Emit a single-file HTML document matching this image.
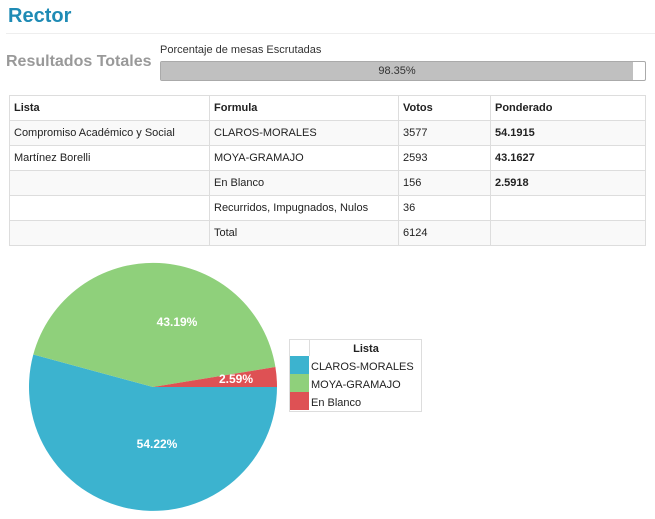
<!DOCTYPE html>
<html><head><meta charset="utf-8"><style>
body{margin:0;width:655px;height:519px;background:#fff;font-family:"Liberation Sans",sans-serif;position:relative;overflow:hidden}
.a{position:absolute}
table{border-collapse:collapse;font-size:11px;color:#222}
td{border:1px solid #ddd;height:25px;padding:0 0 0 4px;box-sizing:border-box}
tr:nth-child(even) td{background:#f9f9f9}
</style></head><body>
<div class="a" style="left:8px;top:5px;font-size:20px;font-weight:bold;color:#1f8bb5">Rector</div>
<div class="a" style="left:6px;top:33px;width:649px;height:1px;background:#eee"></div>
<div class="a" style="left:6px;top:53px;font-size:16px;font-weight:bold;color:#999">Resultados Totales</div>
<div class="a" style="left:160px;top:44px;font-size:11px;color:#333">Porcentaje de mesas Escrutadas</div>
<div class="a" style="left:160px;top:61px;width:484px;height:18px;border:1px solid #aaa;background:#fff;border-radius:2px">
<div style="width:472px;height:18px;background:#c0c0c0;text-align:center;font-size:11px;line-height:18px;color:#333">98.35%</div></div>
<table class="a" style="left:9px;top:95px;width:637px">
<tr><td style="width:200px;font-weight:bold">Lista</td><td style="width:189px;font-weight:bold">Formula</td><td style="width:92px;font-weight:bold">Votos</td><td style="font-weight:bold">Ponderado</td></tr>
<tr><td>Compromiso Académico y Social</td><td>CLAROS-MORALES</td><td>3577</td><td style="font-weight:bold">54.1915</td></tr>
<tr><td>Martínez Borelli</td><td>MOYA-GRAMAJO</td><td>2593</td><td style="font-weight:bold">43.1627</td></tr>
<tr><td></td><td>En Blanco</td><td>156</td><td style="font-weight:bold">2.5918</td></tr>
<tr><td></td><td>Recurridos, Impugnados, Nulos</td><td>36</td><td></td></tr>
<tr><td></td><td>Total</td><td>6124</td><td></td></tr>
</table>
<svg class="a" style="left:0;top:0" width="655" height="519">
<path d="M153,387 L277,387 A124,124 0 1 1 33.3,354.5 Z" fill="#3cb3cf"/>
<path d="M153,387 L33.3,354.5 A124,124 0 0 1 275.4,367 Z" fill="#8fd07b"/>
<path d="M153,387 L275.4,367 A124,124 0 0 1 277,387 Z" fill="#de5154"/>
<g font-family="Liberation Sans" font-weight="bold" font-size="12" fill="#fff" text-anchor="middle">
<text x="177" y="326">43.19%</text><text x="236" y="383">2.59%</text><text x="157" y="448">54.22%</text></g>
<rect x="289.5" y="339.5" width="132" height="72" fill="#fff" stroke="#ddd"/>
<line x1="309.5" y1="340" x2="309.5" y2="356" stroke="#ddd"/>
<rect x="290" y="356" width="19" height="18" fill="#3cb3cf"/>
<rect x="290" y="374" width="19" height="18" fill="#8fd07b"/>
<rect x="290" y="392" width="19" height="18" fill="#de5154"/>
<g font-family="Liberation Sans" font-size="11" fill="#222">
<text x="366" y="352" font-weight="bold" text-anchor="middle">Lista</text>
<text x="311" y="370">CLAROS-MORALES</text><text x="311" y="388">MOYA-GRAMAJO</text><text x="311" y="406">En Blanco</text></g>
</svg>
</body></html>
